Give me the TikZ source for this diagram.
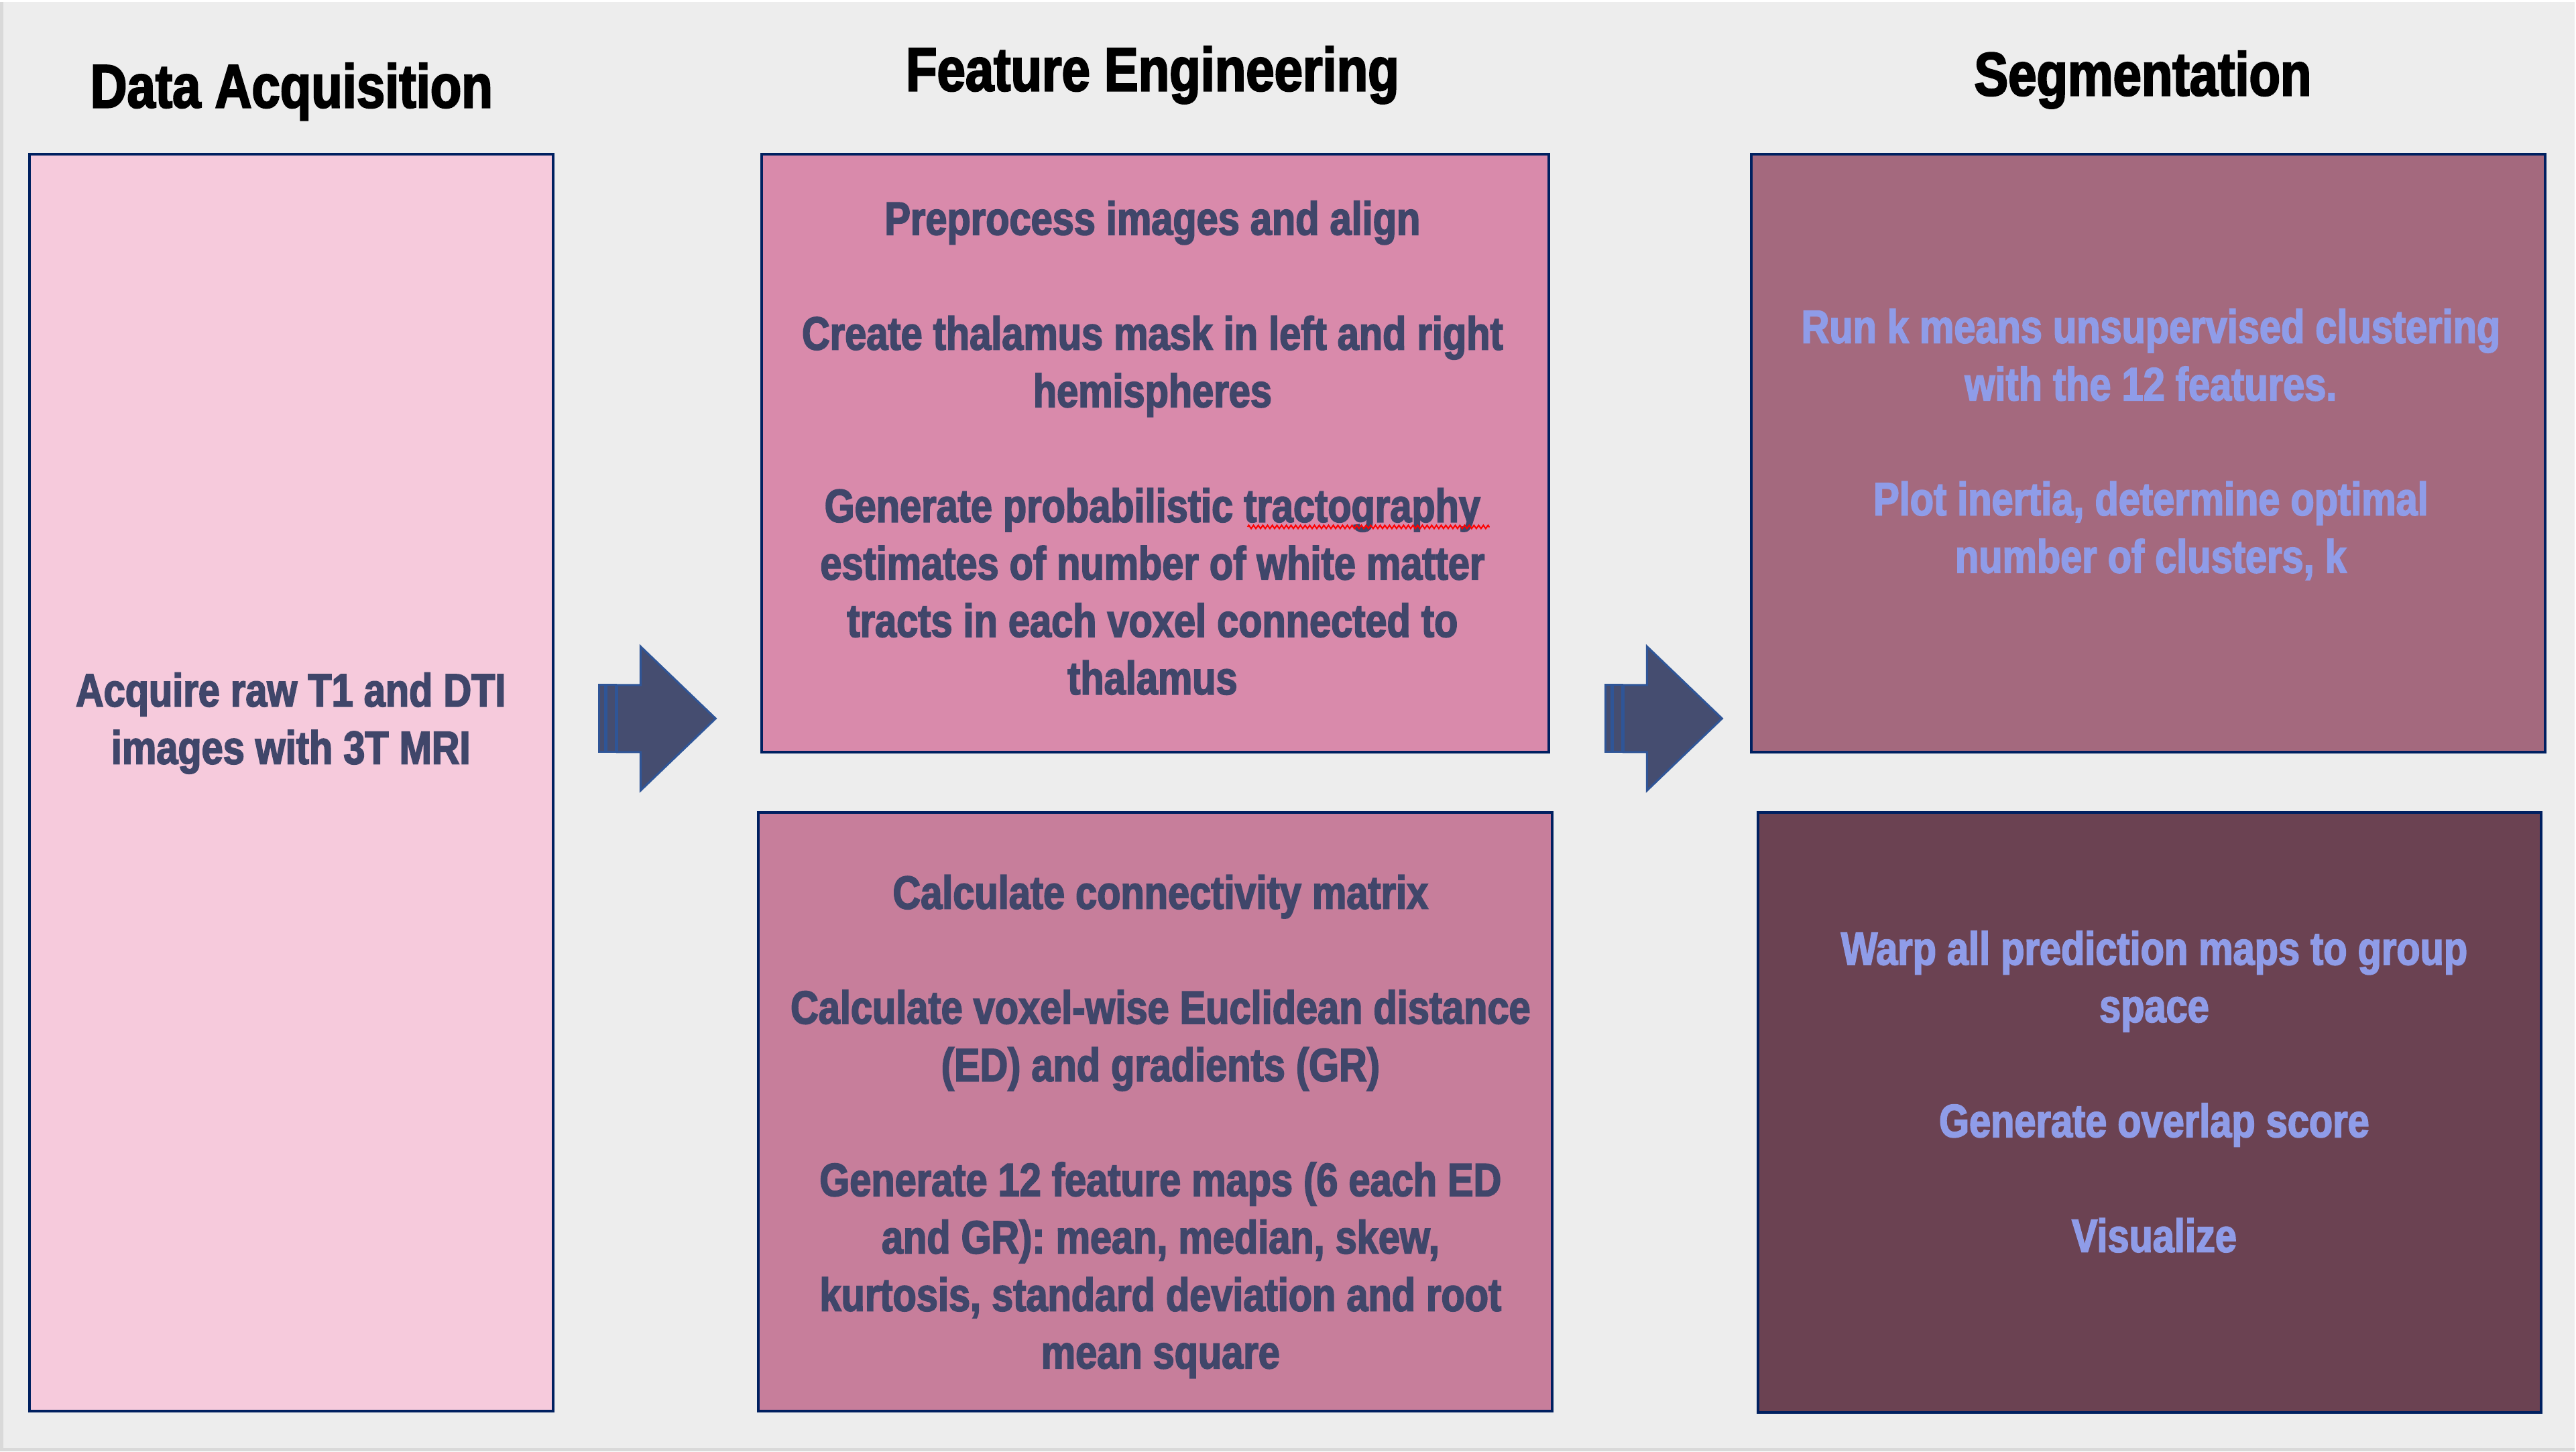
\documentclass[tikz,border=0pt]{standalone}
\usepackage{fontspec}
\setmainfont{Liberation Sans}[FakeStretch=0.83, BoldFeatures={FakeBold=2.5}]
\usetikzlibrary{positioning, decorations.pathmorphing}

\definecolor{bgcol}{HTML}{EDEDED}
\definecolor{edgegray}{HTML}{D9D9D9}
\definecolor{navy}{HTML}{002060}
\definecolor{acqfill}{HTML}{F6CADC}
\definecolor{prepfill}{HTML}{D98AAB}
\definecolor{connfill}{HTML}{C77E9B}
\definecolor{kmeansfill}{HTML}{A4697E}
\definecolor{warpfill}{HTML}{6B4252}
\definecolor{darktext}{HTML}{40466A}
\definecolor{lighttext}{HTML}{8F9CE8}
\definecolor{arrowfill}{HTML}{454D70}
\definecolor{arrowline}{HTML}{2F5597}

\begin{document}
\begin{tikzpicture}

\tikzset{box/.style = {draw=navy, line width=0.04cm, inner sep=0pt}}
\tikzset{title/.style = {anchor=base, font=\fontsize{26.1}{31}\selectfont\bfseries}}
\tikzset{txt/.style = {align=center, inner sep=0pt, font=\fontsize{19.8}{24.4}\selectfont\bfseries, text=darktext}}
\tikzset{lighttxt/.style = {txt, text=lighttext}}
\tikzset{arrowpart/.style = {fill=arrowfill, draw=arrowline, line width=0.03cm}}
\tikzset{stripearrow/.pic = {
  \filldraw[arrowpart] (0,-0.5) rectangle (0.09,0.5);
  \filldraw[arrowpart] (0.11,-0.5) rectangle (0.25,0.5);
  \filldraw[arrowpart] (0.27,-0.5) -- (0.62,-0.5) -- (0.62,-1.075) -- (1.74,0) -- (0.62,1.075) -- (0.62,0.5) -- (0.27,0.5) -- cycle;}}

% background
\fill[bgcol] (0,0) rectangle (38.42,-21.64);
\draw[edgegray, line width=0.05cm] (0.025,0) -- (0.025,-21.615) -- (38.42,-21.615);
\useasboundingbox (0,0) rectangle (38.42,-21.64);

% titles
\node[title] (acqtitle) at (4.35,-1.58) {Data Acquisition};
\node[title] (feattitle) at (17.20,-1.33) {Feature Engineering};
\node[title] (segtitle) at (31.98,-1.40) {Segmentation};

% boxes
\node[box, fill=acqfill, minimum width=7.82cm, minimum height=18.76cm] (acq) at (4.35,-11.66) {};
\node[box, fill=prepfill, minimum width=11.74cm, minimum height=8.92cm] (prep) at (17.24,-6.74) {};
\node[box, fill=connfill, minimum width=11.84cm, minimum height=8.94cm] (conn) at (17.24,-16.57) {};
\node[box, fill=kmeansfill, minimum width=11.84cm, minimum height=8.92cm] (kmeans) at (32.06,-6.74) {};
\node[box, fill=warpfill, minimum width=11.68cm, minimum height=8.96cm] (warp) at (32.08,-16.58) {};

% texts
\node[txt] (acqtxt) at (4.34,-10.77) {Acquire raw T1 and DTI\\images with 3T MRI};
\node[txt] (preptxt) at (17.20,-6.66) {Preprocess images and align\\[24.4pt]
  Create thalamus mask in left and right\\hemispheres\\[24.4pt]
  Generate probabilistic tractography\\estimates of number of white matter\\tracts in each voxel connected to\\thalamus};
\node[txt] (conntxt) at (17.32,-16.79) {Calculate connectivity matrix\\[24.4pt]
  Calculate voxel-wise Euclidean distance\\(ED) and gradients (GR)\\[24.4pt]
  Generate 12 feature maps (6 each ED\\and GR): mean, median, skew,\\kurtosis, standard deviation and root\\mean square};
\node[lighttxt] (kmeanstxt) at (32.10,-6.61) {Run k means unsupervised clustering\\with the 12 features.\\[24.4pt]
  Plot inertia, determine optimal\\number of clusters, k};
\node[lighttxt] (warptxt) at (32.15,-16.27) {Warp all prediction maps to group\\space\\[24.4pt]
  Generate overlap score\\[24.4pt]
  Visualize};

% arrows
\pic (arrA) at (8.94,-10.70) {stripearrow};
\pic (arrB) at (23.96,-10.70) {stripearrow};

% spelling mark
\draw[red, line width=0.02cm, decorate, decoration={zigzag, amplitude=0.025cm, segment length=0.07cm}] (18.62,-7.84) -- (22.23,-7.84);

\end{tikzpicture}
\end{document}
